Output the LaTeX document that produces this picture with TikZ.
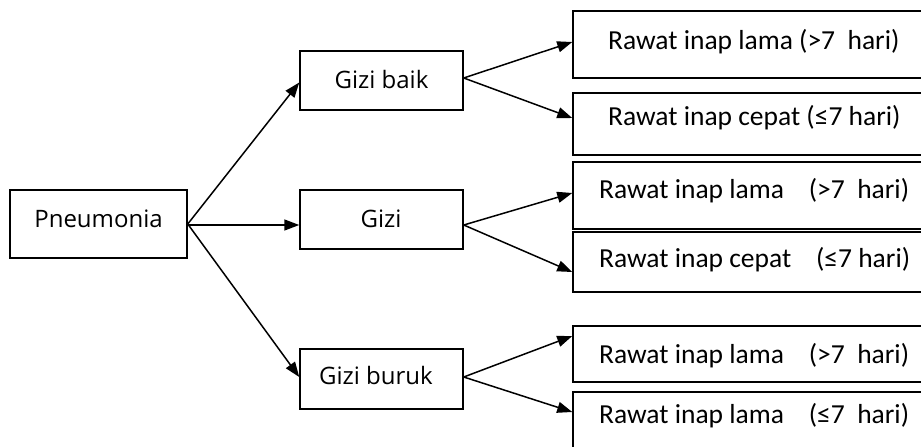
\documentclass[tikz,border=0pt]{standalone}
\usepackage{fontspec}
\setmainfont{Open Sans}
\newfontfamily\rightfont{Carlito}
\usetikzlibrary{arrows.meta,calc}

\tikzset{
  box/.style={draw=black, line width=1.5pt, rectangle, inner sep=0pt},
  lbox/.style={box, minimum width=163pt, minimum height=59pt},
  rbox/.style={box, minimum width=357pt},
  ltext/.style={inner sep=0pt, anchor=base, font=\fontsize{24}{28}\selectfont},
  rtext/.style={inner sep=0pt, anchor=base west, font=\rightfont\fontsize{27.5}{32}\selectfont},
  link/.style={line width=1.5pt, -{Triangle[length=15pt,width=11pt]}}
}

\begin{document}
\begin{tikzpicture}[x=1pt,y=-1pt]
  \clip (0,0) rectangle (921,447);
  \fill[white] (0,0) rectangle (921,447);

  % root
  \node[box, minimum width=177pt, minimum height=68pt] (pneu) at (98.5,224) {};
  \node[ltext] (pneuT) at (98.5,227.5) {Pneumonia};

  % nutrition groups
  \node[lbox] (gb) at (381.5,80.5) {};
  \node[ltext] (gbT) at (381.5,88.5) {Gizi baik};
  \node[lbox] (gz) at (381.5,219.5) {};
  \node[ltext] (gzT) at (381,227.5) {Gizi};
  \node[lbox, minimum height=60pt] (gk) at (381.5,379) {};
  \node[ltext] (gkT) at (376,384.5) {Gizi buruk};

  % outcome boxes (open to the right edge)
  \node[rbox, minimum height=67pt] (r1) at (751.5,44.5) {};
  \node[rbox, minimum height=62pt] (r2) at (751.5,124) {};
  \node[rbox, minimum height=67pt] (r3) at (751.5,195.5) {};
  \node[rbox, minimum height=60pt] (r4) at (751.5,262) {};
  \node[rbox, minimum height=56pt] (r5) at (751.5,354) {};
  \node[rbox, minimum height=68pt] (r6) at (751.5,426) {};

  \node[rtext] (r1T) at (608,49) {Rawat inap lama (>7\ \ hari)};
  \node[rtext] (r2T) at (608,125) {Rawat inap cepat (≤7 hari)};
  \node[rtext] (r3T) at (599,198) {Rawat inap lama\ \ \ \ (>7\ \ hari)};
  \node[rtext] (r4T) at (599,267) {Rawat inap cepat\ \ \ \ (≤7 hari)};
  \node[rtext] (r5T) at (599,363) {Rawat inap lama\ \ \ \ (>7\ \ hari)};
  \node[rtext] (r6T) at (599,423) {Rawat inap lama\ \ \ \ (≤7\ \ hari)};

  % connectors
  \draw[link] (pneu.east) -- ($(gb.west)+(0,2)$);
  \draw[link] ($(pneu.east)+(0,1)$) -- ($(gz.west)+(0,5.5)$);
  \draw[link] (pneu.east) -- ($(gk.west)+(0,-2)$);

  \draw[link] ($(gb.east)+(0,-2.5)$) -- ($(r1.west)+(0,-2.5)$);
  \draw[link] ($(gb.east)+(0,-2.5)$) -- ($(r2.west)+(0,-6)$);
  \draw[link] ($(gz.east)+(0,5.5)$) -- ($(r3.west)+(0,-2.5)$);
  \draw[link] ($(gz.east)+(0,5.5)$) -- ($(r4.west)+(0,10)$);
  \draw[link] ($(gk.east)+(0,-2)$) -- ($(r5.west)+(0,-18)$);
  \draw[link] ($(gk.east)+(0,-2)$) -- ($(r6.west)+(0,-14)$);
\end{tikzpicture}
\end{document}
